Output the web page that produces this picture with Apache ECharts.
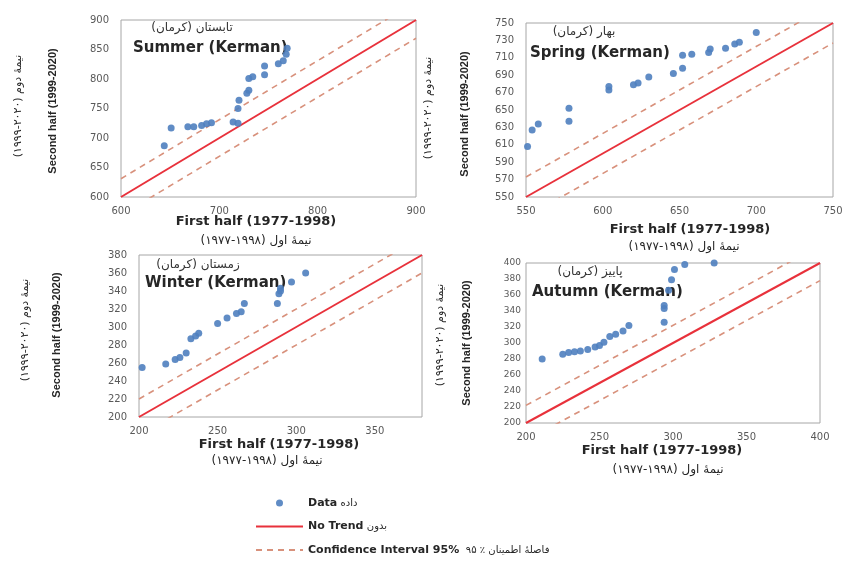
<!DOCTYPE html>
<html>
<head>
<meta charset="utf-8">
<script src="https://cdn.jsdelivr.net/npm/echarts@6/dist/echarts.min.js"></script>
<style>
  html, body { margin: 0; padding: 0; background: #fff; }
  #chart { width: 846px; height: 570px; }
</style>
</head>
<body>
<div id="chart"></div>
<script>
// seasonal means, first half (x) vs second half (y)
const summerData = [
  [644, 687], [651, 717], [668, 719], [674, 719], [682, 721], [687, 724], [692, 726],
  [714, 727], [719, 725], [719, 750], [720, 764], [728, 776], [730, 781], [730, 801],
  [734, 804], [746, 807], [746, 822], [760, 826], [765, 831], [768, 842], [769, 852]
];
const springData = [
  [551, 608], [554, 627], [558, 634], [578, 637], [578, 652], [604, 673], [604, 677],
  [620, 679], [623, 681], [630, 688], [646, 692], [652, 698], [652, 713], [658, 714],
  [669, 716], [670, 720], [680, 721], [686, 726], [689, 728], [700, 739]
];
const winterData = [
  [202, 255], [217, 259], [223, 264], [226, 266], [230, 271], [233, 287], [236, 290],
  [238, 293], [250, 304], [256, 310], [262, 315], [265, 317], [267, 326], [288, 326],
  [289, 337], [290, 340], [290, 343], [297, 350], [306, 360]
];
const autumnData = [
  [211, 280], [225, 286], [229, 288], [233, 289], [237, 290], [242, 292], [247, 295],
  [250, 297], [253, 301], [257, 308], [261, 311], [266, 315], [270, 322], [294, 326],
  [294, 343], [294, 347], [297, 366], [299, 379], [301, 392], [308, 398], [328, 400]
];

// axis ranges [min, max, interval]
const xRanges = [[600, 900, 100], [550, 750, 50], [200, 380, 50], [200, 400, 50]];
const yRanges = [[600, 900, 50], [550, 750, 20], [200, 380, 20], [200, 400, 20]];
// half width of the 95% confidence band
const ciOffsets = [31, 23, 20, 22];

const titlesEn = ['Summer (Kerman)', 'Spring (Kerman)', 'Winter (Kerman)', 'Autumn (Kerman)'];
const titlesFa = ['تابستان (کرمان)', 'بهار (کرمان)', 'زمستان (کرمان)', 'پاییز (کرمان)'];
const xNameEn = 'First half (1977-1998)';
const xNameFa = 'نیمهٔ اول (۱۹۹۸-۱۹۷۷)';
const yNameEn = 'Second half (1999-2020)';
const yNameFa = 'نیمهٔ دوم (۲۰۲۰-۱۹۹۹)';
const legendNames = ['Data', 'No Trend', 'CI'];

const allData = [summerData, springData, winterData, autumnData];

// layout of each panel
const grids = [
  { left: 121, top: 20, width: 295, height: 177 },
  { left: 526, top: 23, width: 307, height: 174 },
  { left: 139, top: 255, width: 283, height: 162 },
  { left: 526, top: 263, width: 294, height: 160 }
];
const textPos = [
  { fa: [192, 28], en: [133, 48], xn: [256, 222], xf: [256, 241], yn: [53, 111], yf: [18, 106], yLabSize: 10, yLabMargin: 12 },
  { fa: [584, 32], en: [530, 53], xn: [690, 230], xf: [684, 247], yn: [465, 114], yf: [428, 108], yLabSize: 10, yLabMargin: 12 },
  { fa: [198, 265], en: [145, 283], xn: [279, 445], xf: [267, 461], yn: [57, 335], yf: [25, 330], yLabSize: 10, yLabMargin: 12 },
  { fa: [590, 272], en: [532, 292], xn: [662, 451], xf: [668, 470], yn: [467, 343], yf: [440, 335], yLabSize: 9, yLabMargin: 5 }
];

const labelColor = '#595959';
const blue = '#4f7fbf';
const red = '#e8313b';
const salmon = '#d8917c';

const xAxes = [], yAxes = [], series = [], graphic = [];

allData.forEach(function (data, i) {
  const xr = xRanges[i], yr = yRanges[i], off = ciOffsets[i], tp = textPos[i];
  xAxes.push({
    type: 'value', gridIndex: i, min: xr[0], max: xr[1], interval: xr[2],
    axisLine: { show: false }, axisTick: { show: false }, splitLine: { show: false },
    axisLabel: { color: labelColor, fontSize: 10, margin: 9, fontFamily: 'DejaVu Sans', showMaxLabel: xr[1] % xr[2] === 0 }
  });
  yAxes.push({
    type: 'value', gridIndex: i, min: yr[0], max: yr[1], interval: yr[2],
    axisLine: { show: false }, axisTick: { show: false }, splitLine: { show: false },
    axisLabel: { color: labelColor, fontSize: tp.yLabSize, margin: tp.yLabMargin, fontFamily: 'DejaVu Sans' }
  });

  const lo = xr[0], hi = xr[1];
  series.push({
    name: 'CI', type: 'line', xAxisIndex: i, yAxisIndex: i, symbol: 'none', silent: true,
    itemStyle: { color: salmon },
    lineStyle: { color: salmon, width: 1.6, type: [6, 5] },
    data: [[lo, lo + off], [hi, hi + off]]
  });
  series.push({
    name: 'CI', type: 'line', xAxisIndex: i, yAxisIndex: i, symbol: 'none', silent: true,
    itemStyle: { color: salmon },
    lineStyle: { color: salmon, width: 1.6, type: [6, 5] },
    data: [[lo, lo - off], [hi, hi - off]]
  });
  series.push({
    name: 'No Trend', type: 'line', xAxisIndex: i, yAxisIndex: i, symbol: 'none', silent: true,
    itemStyle: { color: red },
    lineStyle: { color: red, width: 2 },
    data: [[lo, lo], [hi, hi]]
  });
  series.push({
    name: 'Data', type: 'scatter', xAxisIndex: i, yAxisIndex: i, symbolSize: 7,
    itemStyle: { color: blue, opacity: 0.9 },
    data: data, z: 5
  });

  graphic.push(
    { type: 'text', x: tp.fa[0], y: tp.fa[1], style: { text: titlesFa[i], font: '12px "DejaVu Sans"', fill: '#333', textAlign: 'center', textVerticalAlign: 'middle' } },
    { type: 'text', x: tp.en[0], y: tp.en[1], style: { text: titlesEn[i], font: 'bold 15px "DejaVu Sans"', fill: '#262626', textAlign: 'left', textVerticalAlign: 'middle' } },
    { type: 'text', x: tp.xn[0], y: tp.xn[1], style: { text: xNameEn, font: 'bold 13px "DejaVu Sans"', fill: '#262626', textAlign: 'center', textVerticalAlign: 'middle' } },
    { type: 'text', x: tp.xf[0], y: tp.xf[1], style: { text: xNameFa, font: '12px "DejaVu Sans"', fill: '#262626', textAlign: 'center', textVerticalAlign: 'middle' } },
    { type: 'text', x: tp.yn[0], y: tp.yn[1], rotation: Math.PI / 2, style: { text: yNameEn, font: 'bold 11px "Liberation Sans"', fill: '#262626', textAlign: 'center', textVerticalAlign: 'middle' } },
    { type: 'text', x: tp.yf[0], y: tp.yf[1], rotation: Math.PI / 2, style: { text: yNameFa, font: '11px "DejaVu Sans"', fill: '#262626', textAlign: 'center', textVerticalAlign: 'middle' } }
  );
});

const legendText = {
  'Data': '{b|Data} {p|داده}',
  'No Trend': '{b|No Trend} {p|بدون}',
  'CI': '{b|Confidence Interval 95%}  {p|فاصلهٔ اطمینان ٪ ۹۵}'
};

const chart = echarts.init(document.getElementById('chart'), null, { renderer: 'canvas' });
chart.setOption({
  backgroundColor: '#fff',
  animation: false,
  grid: grids.map(function (g) {
    return Object.assign({ show: true, borderColor: '#a6a6a6', borderWidth: 1, backgroundColor: 'transparent' }, g);
  }),
  xAxis: xAxes,
  yAxis: yAxes,
  series: series,
  graphic: graphic,
  legend: {
    data: [
      { name: 'Data' },
      { name: 'No Trend', itemStyle: { opacity: 0 } },
      { name: 'CI', itemStyle: { opacity: 0 } }
    ],
    orient: 'vertical',
    left: 250,
    top: 492,
    itemWidth: 47,
    itemHeight: 7,
    itemGap: 11.5,
    selectedMode: false,
    formatter: function (name) { return legendText[name]; },
    textStyle: {
      rich: {
        b: { fontFamily: 'DejaVu Sans', fontWeight: 'bold', fontSize: 11, color: '#262626' },
        p: { fontFamily: 'DejaVu Sans', fontSize: 10, color: '#262626' }
      }
    }
  }
});
</script>
</body>
</html>
